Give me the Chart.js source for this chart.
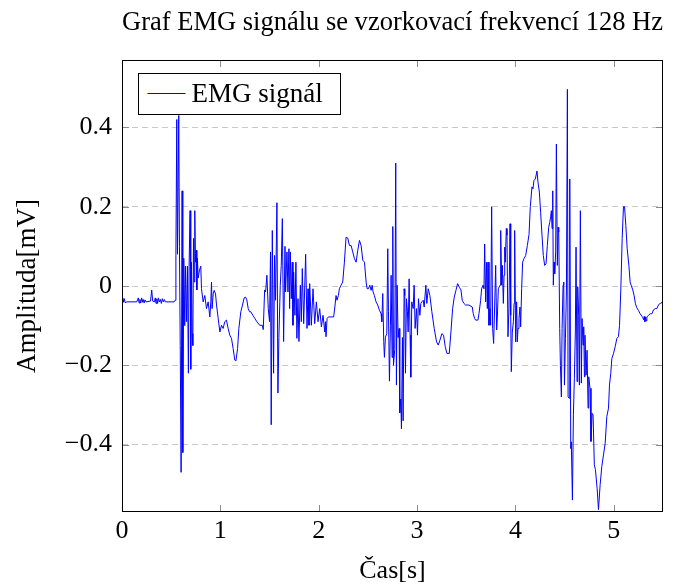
<!DOCTYPE html>
<html>
<head>
<meta charset="utf-8">
<script src="https://cdn.jsdelivr.net/npm/chart.js@4.4.1/dist/chart.umd.min.js"></script>
<style>
  html, body { margin: 0; padding: 0; background: #fff; }
  canvas { display: block; }
</style>
</head>
<body>
<canvas id="emgChart" width="684" height="586"></canvas>
<script>
// time [s]
var times = [
  0.000, 0.008, 0.016, 0.024, 0.032, 0.050, 0.150, 0.166, 0.174, 0.182, 0.190, 0.200, 0.208, 0.216, 0.225, 0.234, 0.245,
  0.290, 0.302, 0.312, 0.330, 0.338, 0.346, 0.354, 0.362, 0.370, 0.380, 0.390, 0.400, 0.410, 0.420, 0.430, 0.440, 0.530, 0.540,
  0.548, 0.557, 0.564, 0.577, 0.584, 0.592, 0.601, 0.611, 0.618, 0.628, 0.638, 0.645, 0.655, 0.665, 0.675,
  0.682, 0.692, 0.699, 0.706, 0.713, 0.720, 0.727, 0.733, 0.740, 0.747, 0.754, 0.761, 0.767, 0.774,
  0.788, 0.801, 0.808, 0.825, 0.842, 0.859, 0.876, 0.893, 0.903, 0.910, 0.916, 0.927, 0.937, 0.951, 0.961, 0.978, 0.995,
  1.011, 1.028, 1.045, 1.062, 1.079, 1.096, 1.113, 1.130, 1.147, 1.158, 1.175, 1.188, 1.208, 1.225, 1.242, 1.256, 1.269,
  1.283, 1.297, 1.310, 1.331, 1.351, 1.371, 1.399, 1.426, 1.436, 1.450, 1.460, 1.473, 1.487, 1.500,
  1.510, 1.517, 1.528, 1.541, 1.551, 1.561, 1.575, 1.585, 1.595, 1.609, 1.619, 1.630, 1.643, 1.657, 1.663, 1.677, 1.687,
  1.697, 1.704, 1.711, 1.721, 1.731, 1.738, 1.745, 1.758, 1.768, 1.778, 1.789, 1.799, 1.813, 1.823, 1.833, 1.847, 1.867,
  1.881, 1.891, 1.901, 1.908, 1.925, 1.942, 1.959, 1.976, 1.993, 2.010, 2.027, 2.044, 2.061, 2.068, 2.074, 2.085,
  2.098, 2.125, 2.152, 2.166, 2.176, 2.186, 2.200, 2.210, 2.227, 2.244, 2.261, 2.278, 2.295, 2.312, 2.329, 2.346, 2.363,
  2.380, 2.397, 2.414, 2.431, 2.448, 2.465, 2.482, 2.492, 2.505, 2.519, 2.533, 2.543, 2.553, 2.566, 2.583, 2.600, 2.617,
  2.634, 2.641, 2.651, 2.661, 2.668, 2.678, 2.692, 2.702, 2.709, 2.719, 2.729, 2.736, 2.746, 2.753, 2.760, 2.773, 2.783,
  2.790, 2.797, 2.807, 2.817, 2.824, 2.834, 2.841, 2.851, 2.858, 2.868, 2.875, 2.882, 2.892, 2.902, 2.909, 2.919, 2.929,
  2.936, 2.946, 2.960, 2.970, 2.980, 2.994, 3.004, 3.014, 3.028, 3.038, 3.048, 3.062, 3.072, 3.089, 3.099, 3.113, 3.130,
  3.150, 3.174, 3.198, 3.215, 3.232, 3.252, 3.269, 3.286, 3.303, 3.327, 3.344, 3.361, 3.378, 3.395, 3.412, 3.429, 3.446,
  3.459, 3.476, 3.493, 3.527, 3.561, 3.571, 3.585, 3.595, 3.619, 3.629, 3.646, 3.656, 3.670, 3.680, 3.687, 3.697, 3.707,
  3.714, 3.721, 3.731, 3.741, 3.748, 3.758, 3.768, 3.778, 3.789, 3.799, 3.809, 3.816, 3.826, 3.843, 3.850, 3.860, 3.867,
  3.877, 3.884, 3.891, 3.897, 3.907, 3.914, 3.924, 3.934, 3.945, 3.952, 3.958, 3.968, 3.979, 3.986, 3.992, 4.002, 4.012,
  4.019, 4.026, 4.036, 4.046, 4.053, 4.063, 4.073, 4.087, 4.104, 4.121, 4.138, 4.151, 4.168, 4.178, 4.188, 4.202, 4.219,
  4.229, 4.243, 4.256, 4.270, 4.283, 4.297, 4.311, 4.324, 4.338, 4.348, 4.358, 4.365, 4.372, 4.379, 4.385, 4.392, 4.399,
  4.409, 4.416, 4.426, 4.433, 4.440, 4.450, 4.457, 4.467, 4.474, 4.484, 4.491, 4.498, 4.508, 4.518, 4.528, 4.535, 4.545,
  4.552, 4.562, 4.568, 4.579, 4.589, 4.599, 4.609, 4.616, 4.626, 4.633, 4.643, 4.650, 4.660, 4.670, 4.677, 4.687, 4.694,
  4.701, 4.707, 4.718, 4.728, 4.738, 4.745, 4.758, 4.768, 4.779, 4.789, 4.802, 4.813, 4.830, 4.844, 4.861, 4.878, 4.895,
  4.912, 4.929, 4.946, 4.956, 4.969, 4.980, 4.997, 5.014, 5.031, 5.047, 5.058, 5.071, 5.085, 5.098, 5.109, 5.122, 5.136,
  5.153, 5.166, 5.176, 5.193, 5.207, 5.220, 5.234, 5.251, 5.268, 5.285, 5.295, 5.302, 5.309, 5.316, 5.322, 5.329, 5.336,
  5.353, 5.370, 5.387, 5.404, 5.421, 5.438, 5.455, 5.472, 5.489, 5.500
];

// amplitude [mV], same order as times
var amplitudes = [
  -0.040, -0.030, -0.041, -0.032, -0.042, -0.040, -0.040, -0.030, -0.043, -0.034, -0.043, -0.030, -0.041, -0.034, -0.043, -0.035, -0.040,
  -0.038, -0.010, -0.038, -0.040, -0.030, -0.044, -0.032, -0.044, -0.030, -0.040, -0.034, -0.044, -0.032, -0.040, -0.034, -0.040, -0.040, -0.036,
  0.080, 0.420, 0.080, 0.430, 0.100, -0.150, -0.470, 0.240, -0.420, 0.070, -0.100, 0.050, -0.090, 0.050, -0.220,
  0.050, 0.190, -0.210, 0.060, -0.120, -0.150, 0.120, 0.010, 0.190, 0.060, 0.090, -0.010, 0.070, 0.020,
  0.040, 0.050, -0.007, -0.040, -0.024, -0.057, -0.040, -0.078, -0.040, 0.010, -0.057, -0.020, -0.011, -0.020, -0.048, -0.082, -0.116,
  -0.099, -0.107, -0.090, -0.086, -0.107, -0.124, -0.132, -0.158, -0.187, -0.189, -0.158, -0.107, -0.065, -0.048, -0.030, -0.028, -0.035,
  -0.057, -0.065, -0.065, -0.074, -0.082, -0.090, -0.099, -0.099, -0.110, -0.010, -0.015, 0.027, -0.057, -0.090,
  0.086, -0.350, 0.140, -0.220, 0.077, -0.036, 0.210, -0.270, -0.130, 0.002, 0.052, 0.170, -0.140, 0.100, -0.015, 0.086, -0.015,
  0.094, -0.057, 0.086, -0.032, 0.060, -0.099, 0.035, -0.074, 0.060, -0.132, -0.032, -0.140, 0.002, -0.090, 0.044, -0.095, 0.080,
  -0.107, -0.007, -0.099, 0.006, -0.099, -0.007, -0.095, -0.040, -0.090, -0.057, -0.103, -0.074, -0.116, -0.090, -0.128, -0.082,
  -0.078, -0.078, -0.078, -0.048, -0.024, -0.036, -0.024, -0.007, 0.002, 0.010, 0.060, 0.123, 0.121, 0.102, 0.102, 0.086, 0.069,
  0.060, 0.090, 0.115, 0.102, 0.065, 0.060, 0.010, -0.007, -0.007, 0.002, -0.011, 0.002, -0.015, -0.024, -0.040, -0.048, -0.061,
  -0.070, -0.090, -0.019, -0.140, -0.180, -0.129, -0.120, 0.094, -0.065, -0.240, -0.099, 0.027, -0.180, 0.150, -0.200, -0.160, 0.310,
  -0.250, 0.002, -0.130, -0.107, -0.320, -0.285, -0.360, -0.130, -0.340, -0.007, -0.024, -0.220, -0.032, -0.065, -0.116, 0.018, -0.124,
  -0.230, -0.040, -0.057, 0.002, -0.107, -0.057, -0.124, -0.032, -0.074, -0.044, -0.040, -0.036, -0.053, 0.002, -0.044, -0.007, -0.024,
  -0.065, -0.107, -0.141, -0.149, -0.137, -0.120, -0.124, -0.153, -0.170, -0.170, -0.116, -0.057, -0.028, -0.011, 0.006, -0.003, -0.010,
  -0.036, -0.044, -0.048, -0.048, -0.053, -0.070, -0.082, -0.086, -0.086, -0.070, -0.036, -0.007, 0.002, -0.007, 0.106, -0.040, 0.060,
  -0.057, 0.060, -0.099, -0.057, -0.099, 0.200, -0.107, -0.145, -0.048, 0.052, -0.111, -0.078, -0.007, 0.002, 0.140, 0.002, 0.052,
  -0.044, 0.027, 0.098, 0.060, 0.145, 0.128, -0.128, -0.057, 0.157, -0.074, -0.216, -0.116, -0.090, -0.044, 0.140, -0.141, -0.040,
  -0.141, -0.107, -0.082, -0.053, -0.103, -0.007, 0.060, 0.069, 0.077, 0.102, 0.130, 0.200, 0.250, 0.245, 0.266, 0.270, 0.290,
  0.262, 0.237, 0.186, 0.128, 0.077, 0.052, 0.056, 0.102, 0.148, 0.160, 0.174, 0.190, 0.145, 0.240, 0.002, 0.060, 0.031,
  0.086, 0.358, 0.052, 0.148, 0.136, -0.107, -0.200, -0.280, -0.107, 0.002, 0.010, -0.250, -0.132, -0.015, 0.496, -0.280, -0.283,
  0.270, -0.410, -0.393, -0.540, -0.325, -0.233, -0.116, 0.098, -0.241, -0.002, -0.074, -0.250, 0.190, -0.245, -0.082, -0.149, -0.103,
  -0.229, -0.124, -0.225, -0.162, -0.308, -0.229, -0.258, -0.392, -0.321, -0.325, -0.451, -0.463, -0.510, -0.564, -0.501, -0.455, -0.426,
  -0.397, -0.329, -0.308, -0.250, -0.220, -0.183, -0.170, -0.153, -0.132, -0.128, -0.100, -0.010, 0.120, 0.200, 0.200, 0.153, 0.094,
  0.052, 0.010, 0.002, -0.010, -0.025, -0.045, -0.055, -0.062, -0.070, -0.076, -0.080, -0.085, -0.077, -0.090, -0.078, -0.088, -0.078,
  -0.074, -0.070, -0.070, -0.060, -0.057, -0.057, -0.047, -0.044, -0.042, -0.036
];

var xTicks = [0, 1, 2, 3, 4, 5];
var yTicks = [-0.4, -0.2, 0, 0.2, 0.4];

var seriesLabel = 'EMG signál';
var titleText = 'Graf EMG signálu se vzorkovací frekvencí 128 Hz';
var xTitle = 'Čas[s]';
var yTitle = 'Amplituda[mV]';

var serif = '"Liberation Serif", "DejaVu Serif", serif';

// frame, inner tick marks and the boxed legend (pgfplots look)
var framePlugin = {
    id: 'frame',
    afterDatasetsDraw: function (chart) {
        var ctx = chart.ctx;
        var a = chart.chartArea;
        var xs = chart.scales.x, ys = chart.scales.y;

        ctx.save();
        ctx.strokeStyle = '#8a8a8a';
        ctx.lineWidth = 1;
        ctx.beginPath();
        xTicks.forEach(function (v) {
            var px = Math.round(xs.getPixelForValue(v)) + 0.5;
            ctx.moveTo(px, a.bottom); ctx.lineTo(px, a.bottom - 7);
            ctx.moveTo(px, a.top); ctx.lineTo(px, a.top + 7);
        });
        yTicks.forEach(function (v) {
            var py = Math.round(ys.getPixelForValue(v)) + 0.5;
            ctx.moveTo(a.left, py); ctx.lineTo(a.left + 7, py);
            ctx.moveTo(a.right, py); ctx.lineTo(a.right - 7, py);
        });
        ctx.stroke();

        ctx.strokeStyle = '#000';
        ctx.strokeRect(Math.round(a.left) + 0.5, Math.round(a.top) + 0.5,
            Math.round(a.width) - 1, Math.round(a.height) - 1);

        // legend box
        var ds = chart.data.datasets[0];
        var bx = Math.round(a.left) + 16.5, by = Math.round(a.top) + 13.5;
        var bw = 202, bh = 41;
        ctx.fillStyle = '#fff';
        ctx.fillRect(bx, by, bw, bh);
        ctx.strokeStyle = '#000';
        ctx.strokeRect(bx, by, bw, bh);
        ctx.strokeStyle = ds.borderColor;
        ctx.lineWidth = 1;
        ctx.beginPath();
        ctx.moveTo(bx + 9, by + 20);
        ctx.lineTo(bx + 47, by + 20);
        ctx.stroke();
        ctx.fillStyle = '#000';
        ctx.font = '27px ' + serif;
        ctx.textBaseline = 'middle';
        ctx.textAlign = 'left';
        ctx.fillText(ds.label, bx + 53, by + 21);
        ctx.restore();
    }
};

var points = times.map(function (t, i) {
    return { x: t, y: amplitudes[i] };
});

var ctx = document.getElementById('emgChart').getContext('2d');
var emgChart = new Chart(ctx, {
    type: 'line',
    data: {
        datasets: [{
            label: seriesLabel,
            data: points,
            borderColor: '#0000ff',
            borderWidth: 1,
            pointRadius: 0,
            tension: 0,
            fill: false
        }]
    },
    options: {
        responsive: false,
        animation: false,
        devicePixelRatio: 1,
        layout: { padding: { left: 0, right: 21, top: 0, bottom: 0 } },
        plugins: {
            legend: { display: false },
            tooltip: { enabled: false },
            title: {
                display: true,
                text: titleText,
                fullSize: false,
                color: '#000',
                font: { family: serif, size: 28, weight: 'normal', lineHeight: 1 },
                padding: { top: 9, bottom: 23 }
            }
        },
        scales: {
            x: {
                type: 'linear',
                min: 0,
                max: 5.5,
                afterBuildTicks: function (scale) {
                    scale.ticks = xTicks.map(function (v) { return { value: v }; });
                },
                afterFit: function (scale) { scale.height = 74; },
                grid: { display: false, drawTicks: false },
                border: { display: false },
                ticks: {
                    color: '#000',
                    padding: 6,
                    maxRotation: 0,
                    font: { family: serif, size: 26, lineHeight: 1 },
                    callback: function (v) { return String(v); }
                },
                title: {
                    display: true,
                    text: xTitle,
                    color: '#000',
                    font: { family: serif, size: 26, lineHeight: 1 },
                    padding: { top: 0, bottom: 2 }
                }
            },
            y: {
                type: 'linear',
                min: -0.57,
                max: 0.57,
                afterBuildTicks: function (scale) {
                    scale.ticks = yTicks.map(function (v) { return { value: v }; });
                },
                afterFit: function (scale) { scale.width = 122; },
                grid: { display: true, drawTicks: false, color: '#c8c8c8', lineWidth: 1 },
                border: { display: false, dash: [6, 4] },
                ticks: {
                    color: '#000',
                    padding: 10,
                    font: { family: serif, size: 26, lineHeight: 1 },
                    callback: function (v) {
                        if (v === 0) return '0';
                        return (v < 0 ? '\u2212' : '') + Math.abs(v).toFixed(1);
                    }
                },
                title: {
                    display: true,
                    text: yTitle,
                    color: '#000',
                    font: { family: serif, size: 27, lineHeight: 1 },
                    padding: { top: 14, bottom: 0 }
                }
            }
        }
    },
    plugins: [framePlugin]
});
</script>
</body>
</html>
